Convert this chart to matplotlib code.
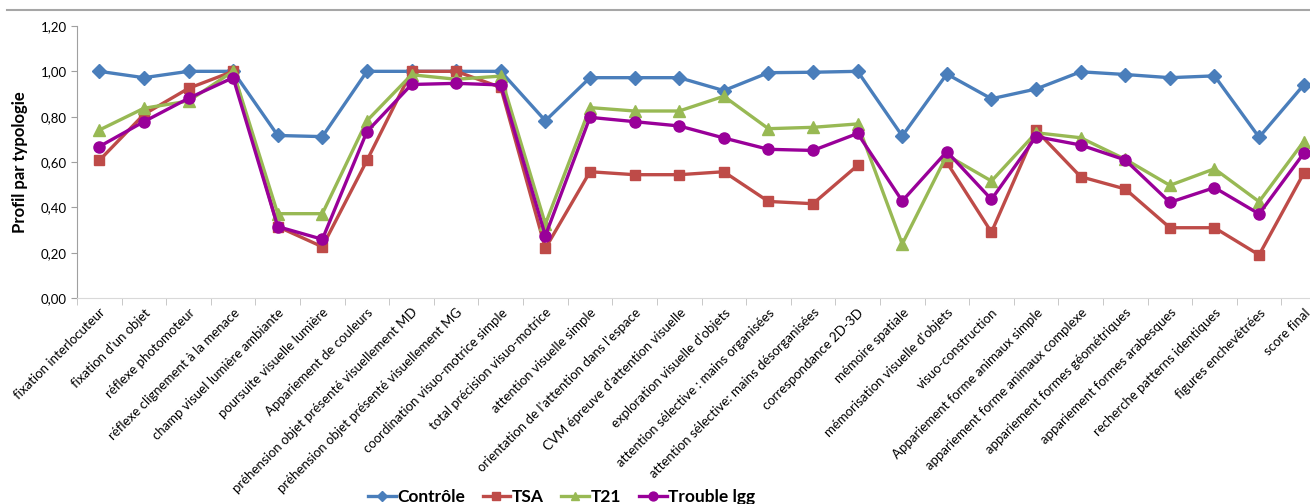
"""Profil par typologie."""

import numpy as np
from matplotlib import pyplot as plt
from matplotlib.lines import Line2D

plt.rcParams["font.family"] = ["Lato", "DejaVu Sans"]

categories = [
    "fixation interlocuteur",
    "fixation d'un objet",
    "réflexe photomoteur",
    "réflexe clignement à la menace",
    "champ visuel lumière ambiante",
    "poursuite visuelle lumière",
    "Appariement de couleurs",
    "préhension objet présenté visuellement MD",
    "préhension objet présenté visuellement MG",
    "coordination visuo-motrice simple",
    "total précision visuo-motrice",
    "attention visuelle simple",
    "orientation de l'attention dans l'espace",
    "CVM épreuve d'attention visuelle",
    "exploration visuelle d'objets",
    "attention sélective : mains organisées",
    "attention sélective: mains désorganisées",
    "correspondance 2D-3D",
    "mémoire spatiale",
    "mémorisation visuelle d'objets",
    "visuo-construction",
    "Appariement forme animaux simple",
    "appariement forme animaux complexe",
    "appariement formes géométriques",
    "appariement formes arabesques",
    "recherche patterns identiques",
    "figures enchevêtrées",
    "score final",
]

controle = [1.00, 0.972, 1.00, 1.00, 0.717, 0.712, 1.00, 1.00, 1.00, 1.00,
            0.782, 0.972, 0.972, 0.972, 0.915, 0.994, 0.996, 1.00, 0.715, 0.988,
            0.879, 0.922, 0.998, 0.986, 0.972, 0.980, 0.709, 0.940]
tsa = [0.607, 0.81, 0.925, 1.00, 0.315, 0.226, 0.607, 1.00, 1.00, 0.929,
       0.219, 0.557, 0.544, 0.544, 0.557, 0.426, 0.416, 0.585, np.nan, 0.598,
       0.290, 0.740, 0.535, 0.481, 0.310, 0.310, 0.190, 0.550]
t21 = [0.741, 0.837, 0.869, 1.00, 0.372, 0.372, 0.782, 0.985, 0.965, 0.979,
       0.326, 0.840, 0.825, 0.825, 0.890, 0.747, 0.753, 0.768, 0.238, 0.630,
       0.516, 0.729, 0.707, 0.612, 0.497, 0.570, 0.425, 0.690]
trouble_lgg = [0.668, 0.778, 0.881, 0.972, 0.315, 0.259, 0.734, 0.942, 0.947, 0.940,
               0.275, 0.797, 0.778, 0.759, 0.706, 0.656, 0.651, 0.726, 0.428, 0.646,
               0.435, 0.712, 0.675, 0.609, 0.422, 0.487, 0.371, 0.638]

series = [
    ("Contrôle", controle, "#4A7EBB", "D", 7),
    ("TSA", tsa, "#BE4B48", "s", 7),
    ("T21", t21, "#98B954", "^", 8),
    ("Trouble lgg", trouble_lgg, "#990099", "o", 8),
]

fig = plt.figure(figsize=(13.1, 5.04), dpi=100)
ax = fig.add_axes((77 / 1310, 1 - 298 / 504, 1249 / 1310, 272 / 504))

x = np.arange(len(categories))
for name, vals, color, marker, ms in series:
    ax.plot(x, vals, color=color, marker=marker, markersize=ms, linewidth=2.4,
            label=name)

ax.set_xlim(-0.5, len(categories) - 0.5)
ax.set_ylim(0, 1.2)
ax.set_yticks(np.arange(0, 1.21, 0.2))
ax.set_yticklabels([f"{v:.2f}".replace(".", ",") for v in np.arange(0, 1.21, 0.2)],
                   fontsize=9.5)
ax.set_ylabel("Profil par typologie", fontsize=12, fontweight="bold", labelpad=9)

ax.set_xticks(x)
ax.set_xticklabels(categories, rotation=45, ha="right", rotation_mode="anchor",
                   fontsize=9.5)
ax.tick_params(axis="x", length=0, pad=6)
ax.set_xticks(np.arange(-0.5, len(categories), 1), minor=True)
ax.tick_params(axis="x", which="minor", length=5, color="#BFBFBF", direction="out")
ax.tick_params(axis="y", length=4, color="#A0A0A0")

for side in ("top", "right"):
    ax.spines[side].set_visible(False)
ax.spines["left"].set_color("#A0A0A0")
ax.spines["bottom"].set_color("#D9D9D9")

leg = ax.legend(loc="lower center", bbox_to_anchor=(0.388, -0.82), ncol=4,
                frameon=False, prop={"weight": "bold", "size": 12.5},
                handlelength=1.6, handletextpad=0.1, columnspacing=1.0,
                markerscale=0.8)

fig.add_artist(Line2D([7 / 1310, 1], [1 - 10 / 504, 1 - 10 / 504],
                      color="#A6A6A6", linewidth=1.5))

fig.savefig("out.png", dpi=100)
